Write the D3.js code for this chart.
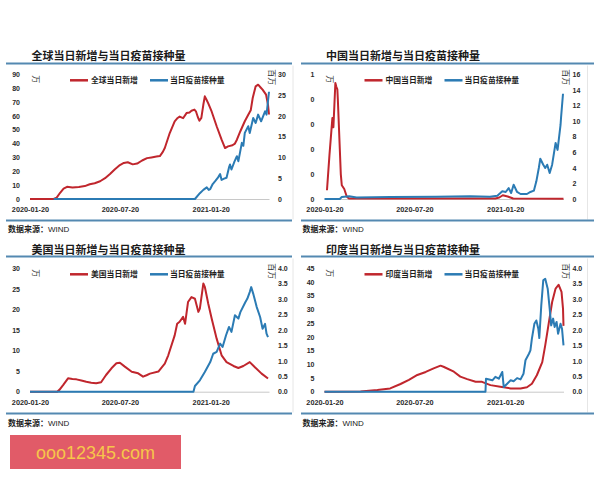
<!DOCTYPE html>
<html><head><meta charset="utf-8">
<script src="https://cdn.jsdelivr.net/npm/d3@7"></script>
<style>
body{margin:0;background:#fff;}
svg{display:block;font-family:"Noto Sans CJK SC","Noto Sans",sans-serif;}
</style></head><body>
<svg id="c" width="600" height="480"></svg>
<script>
// ---------- data ----------
const xTickDates = ["2020-01-20","2020-07-20","2021-01-20"];
const dateDomain = ["2020-01-20","2021-05-18"];

const globalLeftTicks = [0,10,20,30,40,50,60,70,80,90];
const globalRightTicks = [0,5,10,15,20,25,30];
const chinaLeftTicks = [0,0.2,0.4,0.6,0.8,1];
const chinaLeftLabels = ["0","0","0","0","0","1"];
const chinaRightTicks = [0,2,4,6,8,10,12,14,16];
const usLeftTicks = [0,5,10,15,20,25,30];
const indiaLeftTicks = [0,5,10,15,20,25,30,35,40,45];
const vaccRightTicks = [0,0.5,1,1.5,2,2.5,3,3.5,4];
const vaccRightLabels = ["0.0","0.5","1.0","1.5","2.0","2.5","3.0","3.5","4.0"];

const titles = ["全球当日新增与当日疫苗接种量","中国当日新增与当日疫苗接种量","美国当日新增与当日疫苗接种量","印度当日新增与当日疫苗接种量"];
const caseNames = ["全球当日新增","中国当日新增","美国当日新增","印度当日新增"];
const vaccName = "当日疫苗接种量";
const sourceLabel = "数据来源：";
const sourceName = "WIND";

const globalCases = [["2020-01-20",0],["2020-03-08",0],["2020-03-14",1],["2020-03-21",4.5],["2020-03-28",7.5],["2020-04-04",8.8],["2020-04-15",8.3],["2020-04-28",8.7],["2020-05-10",9.3],["2020-05-20",10.6],["2020-05-30",11.4],["2020-06-10",12.8],["2020-06-20",15],["2020-06-30",18],["2020-07-10",21.5],["2020-07-20",24.5],["2020-07-28",26],["2020-08-05",26.5],["2020-08-15",25],["2020-08-24",25.6],["2020-09-03",27.8],["2020-09-13",29.5],["2020-09-22",30],["2020-10-02",30.6],["2020-10-09",31],["2020-10-15",34],["2020-10-19",36.8],["2020-10-29",47.6],["2020-11-08",56],["2020-11-14",58.5],["2020-11-18",59.5],["2020-11-25",58.3],["2020-12-02",62],["2020-12-08",62.5],["2020-12-12",63.7],["2020-12-18",64.5],["2020-12-21",63.3],["2020-12-25",59],["2020-12-28",56.5],["2021-01-01",58.5],["2021-01-05",68],["2021-01-08",74.1],["2021-01-11",72],["2021-01-15",69],["2021-01-22",63],["2021-02-01",52.5],["2021-02-11",42.8],["2021-02-18",36.8],["2021-02-24",38],["2021-03-05",38.8],["2021-03-10",40],["2021-03-14",42.8],["2021-03-21",48.9],["2021-03-30",56.1],["2021-04-06",60.8],["2021-04-11",64],["2021-04-15",72.9],["2021-04-21",81.3],["2021-04-26",82.5],["2021-05-01",80.5],["2021-05-05",78.9],["2021-05-12",75.3],["2021-05-16",68],["2021-05-18",61]];
const globalVacc = [["2020-03-08",0],["2020-12-19",0],["2020-12-29",1.4],["2021-01-05",2.2],["2021-01-12",2.8],["2021-01-16",2.2],["2021-01-19",2.4],["2021-01-24",3.6],["2021-01-29",4.3],["2021-02-04",5.2],["2021-02-08",6],["2021-02-11",4.6],["2021-02-16",4.9],["2021-02-21",5.1],["2021-02-26",7.6],["2021-02-28",8.3],["2021-03-03",7.1],["2021-03-09",9],["2021-03-14",10.3],["2021-03-17",9.1],["2021-03-24",13.5],["2021-03-27",12.8],["2021-03-30",15.9],["2021-04-06",17.5],["2021-04-09",15.9],["2021-04-16",19.5],["2021-04-21",18.3],["2021-04-26",20.3],["2021-05-02",18.7],["2021-05-10",21.1],["2021-05-13",20.3],["2021-05-18",25.8]];

const chinaCases = [["2020-01-25",0.07],["2020-01-30",0.35],["2020-02-03",0.55],["2020-02-05",0.65],["2020-02-07",0.575],["2020-02-09",0.75],["2020-02-11",0.93],["2020-02-13",0.9],["2020-02-15",0.88],["2020-02-16",0.8],["2020-02-18",0.6],["2020-02-20",0.4],["2020-02-22",0.2],["2020-02-24",0.11],["2020-02-29",0.08],["2020-03-05",0.02],["2020-03-09",0.005],["2020-12-31",0.004],["2021-01-08",0.012],["2021-01-15",0.03],["2021-01-25",0.02],["2021-02-05",0.004],["2021-05-18",0.003]];
const chinaVacc = [["2020-01-20",0],["2020-02-20",0],["2020-02-24",0.25],["2020-03-10",0.35],["2020-03-25",0.2],["2020-06-01",0.25],["2020-09-01",0.3],["2020-11-10",0.35],["2020-12-20",0.3],["2021-01-04",0.42],["2021-01-09",0.7],["2021-01-14",1.0],["2021-01-21",0.9],["2021-01-27",1.4],["2021-02-01",0.77],["2021-02-06",1.84],["2021-02-13",0.9],["2021-02-20",0.64],["2021-03-05",0.64],["2021-03-12",0.9],["2021-03-19",1.07],["2021-03-24",2.27],["2021-03-29",3.98],["2021-04-01",5.17],["2021-04-07",4.4],["2021-04-11",3.98],["2021-04-15",4.4],["2021-04-20",3.34],["2021-04-25",4.4],["2021-05-02",7.2],["2021-05-06",6.3],["2021-05-12",9.5],["2021-05-13",10.4],["2021-05-17",13.5]];

const usCases = [["2020-01-20",0],["2020-03-15",0],["2020-03-20",0.5],["2020-03-27",1.6],["2020-04-06",3.25],["2020-04-15",3.1],["2020-04-23",3.0],["2020-05-03",2.7],["2020-05-13",2.4],["2020-05-23",2.2],["2020-06-02",2.04],["2020-06-12",2.3],["2020-06-22",4.06],["2020-07-03",5.7],["2020-07-13",6.9],["2020-07-20",7.05],["2020-07-30",6.1],["2020-08-13",4.86],["2020-08-26",4.47],["2020-09-05",3.65],["2020-09-12",4.0],["2020-09-19",4.4],["2020-10-06",4.9],["2020-10-12",5.8],["2020-10-19",6.8],["2020-10-26",8.85],["2020-11-08",13.7],["2020-11-13",16.5],["2020-11-18",17],["2020-11-25",18.2],["2020-11-29",16.5],["2020-12-05",21.8],["2020-12-12",23],["2020-12-19",22.6],["2020-12-26",19.4],["2020-12-29",20.2],["2021-01-05",26.3],["2021-01-08",25.5],["2021-01-15",21.4],["2021-01-22",17.75],["2021-02-01",12.9],["2021-02-11",8.85],["2021-02-21",7.2],["2021-03-07",6.25],["2021-03-17",5.76],["2021-03-27",6.25],["2021-04-09",7.2],["2021-04-19",6.0],["2021-05-03",4.4],["2021-05-16",3.2]];
const usVacc = [["2020-01-20",0],["2020-12-16",0],["2020-12-19",0.185],["2020-12-29",0.37],["2021-01-08",0.64],["2021-01-19",0.96],["2021-01-25",1.23],["2021-02-01",1.29],["2021-02-08",1.56],["2021-02-13",1.45],["2021-02-20",1.83],["2021-02-26",2.1],["2021-03-03",1.94],["2021-03-10",2.48],["2021-03-17",2.37],["2021-03-21",2.58],["2021-03-31",2.9],["2021-04-04",3.01],["2021-04-09",3.23],["2021-04-12",3.39],["2021-04-16",3.18],["2021-04-23",2.75],["2021-04-30",2.42],["2021-05-05",2.04],["2021-05-10",2.2],["2021-05-13",1.88],["2021-05-16",1.77]];

const indiaCases = [["2020-01-20",0],["2020-04-02",0.1],["2020-05-06",0.6],["2020-06-01",1.2],["2020-06-22",2.8],["2020-07-09",4.3],["2020-07-26",6.1],["2020-08-12",7.2],["2020-08-28",8.5],["2020-09-11",9.5],["2020-09-17",9.1],["2020-10-08",7.3],["2020-10-21",5.5],["2020-11-04",4.6],["2020-11-21",3.65],["2020-12-04",3.6],["2020-12-21",2.4],["2021-01-10",1.8],["2021-01-31",1.2],["2021-02-20",1.2],["2021-03-05",1.6],["2021-03-15",2.9],["2021-03-25",6],["2021-04-05",10.8],["2021-04-11",16.9],["2021-04-18",24.8],["2021-04-25",32.7],["2021-05-02",37.6],["2021-05-08",39],["2021-05-14",36.4],["2021-05-17",30.3],["2021-05-18",24]];
const indiaVacc = [["2020-01-20",0],["2020-12-11",0],["2020-12-12",0.42],["2020-12-25",0.37],["2020-12-31",0.48],["2021-01-07",0.42],["2021-01-14",0.64],["2021-01-17",0.15],["2021-01-24",0.26],["2021-01-31",0.37],["2021-02-06",0.34],["2021-02-13",0.44],["2021-02-20",0.4],["2021-02-26",0.58],["2021-03-02",1.02],["2021-03-09",1.23],["2021-03-12",1.34],["2021-03-15",1.72],["2021-03-20",2.2],["2021-03-24",2.31],["2021-03-28",2.04],["2021-03-30",1.74],["2021-04-03",2.8],["2021-04-07",3.61],["2021-04-11",3.66],["2021-04-16",3.34],["2021-04-20",2.69],["2021-04-23",2.15],["2021-04-27",2.37],["2021-04-30",2.1],["2021-05-04",2.26],["2021-05-07",1.88],["2021-05-12",2.2],["2021-05-15",2.04],["2021-05-18",1.5]];

// ---------- drawing ----------
const parse = d3.timeParse("%Y-%m-%d");
const fmt = d3.timeFormat("%Y-%m-%d");
const RED = "#c0262d", BLUE = "#2b7bb4", RULE = "#5489b1";
const svg = d3.select("#c");

const rows = [
  {titleY: 59.8, ruleTop: 63.5, yTop: 74.3, yBot: 199, ruleBot: 220.5, srcY: 232},
  {titleY: 254.2, ruleTop: 256.5, yTop: 268.3, yBot: 391.7, ruleBot: 413.5, srcY: 425.5}
];
const panels = [
  {row:0, ox:0, title:titles[0], cName:caseNames[0], cases:globalCases, vacc:globalVacc, lMax:90, lTicks:globalLeftTicks, lLabels:null, rMax:30, rTicks:globalRightTicks, rLabels:null, ruleX:[6,292]},
  {row:0, ox:294.5, title:titles[1], cName:caseNames[1], cases:chinaCases, vacc:chinaVacc, lMax:1, lTicks:chinaLeftTicks, lLabels:chinaLeftLabels, rMax:16, rTicks:chinaRightTicks, rLabels:null, ruleX:[301,594]},
  {row:1, ox:0, title:titles[2], cName:caseNames[2], cases:usCases, vacc:usVacc, lMax:30, lTicks:usLeftTicks, lLabels:null, rMax:4, rTicks:vaccRightTicks, rLabels:vaccRightLabels, ruleX:[6,292]},
  {row:1, ox:294.5, title:titles[3], cName:caseNames[3], cases:indiaCases, vacc:indiaVacc, lMax:45, lTicks:indiaLeftTicks, lLabels:null, rMax:4, rTicks:vaccRightTicks, rLabels:vaccRightLabels, ruleX:[301,594]}
];

function styleTicks(sel){
  sel.select(".domain").remove();
  sel.selectAll("text").attr("font-family","'Liberation Sans',Arial,sans-serif")
     .attr("font-size",7).attr("font-weight","bold").attr("fill","#2a2a2a");
}

panels.forEach(p => {
  const r = rows[p.row];
  const g = svg.append("g");
  const x0 = p.ox + 30, x1 = p.ox + 269;
  const x = d3.scaleTime().domain(dateDomain.map(parse)).range([x0, x1]);
  const yL = d3.scaleLinear().domain([0, p.lMax]).range([r.yBot, r.yTop]);
  const yR = d3.scaleLinear().domain([0, p.rMax]).range([r.yBot, r.yTop]);

  g.append("line").attr("x1", p.ox+293).attr("x2", p.ox+293).attr("y1", r.ruleTop+2).attr("y2", r.ruleBot-1)
    .attr("stroke","#e6e6e6").attr("stroke-width",1);

  g.append("text").attr("x", p.ox+31.5).attr("y", r.titleY).text(p.title)
    .attr("font-size",11).attr("font-weight","bold").attr("fill","#1a1a1a");
  g.append("line").attr("x1",p.ruleX[0]).attr("x2",p.ruleX[1]).attr("y1",r.ruleTop).attr("y2",r.ruleTop)
    .attr("stroke",RULE).attr("stroke-width",2);
  g.append("line").attr("x1",p.ruleX[0]).attr("x2",p.ruleX[1]).attr("y1",r.ruleBot).attr("y2",r.ruleBot)
    .attr("stroke",RULE).attr("stroke-width",2);

  const aL = d3.axisLeft(yL).tickValues(p.lTicks).tickSize(0).tickPadding(10);
  if (p.lLabels) aL.tickFormat((d,i)=>p.lLabels[i]);
  g.append("g").attr("transform",`translate(${x0},0)`).call(aL).call(styleTicks);
  const aR = d3.axisRight(yR).tickValues(p.rTicks).tickSize(0).tickPadding(9);
  if (p.rLabels) aR.tickFormat((d,i)=>p.rLabels[i]);
  g.append("g").attr("transform",`translate(${x1},0)`).call(aR).call(styleTicks);
  const aX = d3.axisBottom(x).tickValues(xTickDates.map(parse)).tickFormat(fmt).tickSize(0).tickPadding(8);
  const gx = g.append("g").attr("transform",`translate(0,${r.yBot})`).call(aX);
  gx.select(".domain").attr("stroke","#c8c8c8").attr("stroke-width",1);
  gx.selectAll("text").attr("font-family","'Liberation Sans',Arial,sans-serif")
     .attr("font-size",7.3).attr("font-weight","bold").attr("fill","#2a2a2a");

  g.append("text").attr("transform",`translate(${x0+2.5},${r.yTop+1}) rotate(90)`).text("万")
    .attr("font-size",8).attr("fill","#333");
  g.append("text").attr("transform",`translate(${x1-0.5},${r.yTop-5}) rotate(90)`).text("百万")
    .attr("font-size",8).attr("fill","#333");

  const ly = r.yTop + 6;
  g.append("line").attr("x1",p.ox+70).attr("x2",p.ox+88).attr("y1",ly).attr("y2",ly).attr("stroke",RED).attr("stroke-width",2.5);
  g.append("text").attr("x",p.ox+91).attr("y",ly+3).text(p.cName).attr("font-size",7.8).attr("font-weight",600).attr("fill","#1e1e1e");
  g.append("line").attr("x1",p.ox+150).attr("x2",p.ox+168).attr("y1",ly).attr("y2",ly).attr("stroke",BLUE).attr("stroke-width",2.5);
  g.append("text").attr("x",p.ox+170).attr("y",ly+3).text(vaccName).attr("font-size",7.8).attr("font-weight",600).attr("fill","#1e1e1e");

  const lineL = d3.line().x(d=>x(parse(d[0]))).y(d=>yL(d[1]));
  const lineR = d3.line().x(d=>x(parse(d[0]))).y(d=>yR(d[1]));
  g.append("path").attr("d",lineL(p.cases)).attr("fill","none").attr("stroke",RED).attr("stroke-width",2).attr("stroke-linejoin","round");
  g.append("path").attr("d",lineR(p.vacc)).attr("fill","none").attr("stroke",BLUE).attr("stroke-width",2).attr("stroke-linejoin","round");

  const src = g.append("text").attr("x",p.ox+8).attr("y",r.srcY).attr("font-size",8).attr("fill","#222");
  src.append("tspan").text(sourceLabel).attr("font-weight","bold");
  src.append("tspan").text(sourceName).attr("font-family","'Liberation Sans',Arial,sans-serif");
});

svg.append("rect").attr("x",10).attr("y",435).attr("width",171).attr("height",34).attr("fill","#e15b68");
svg.append("text").attr("x",95.5).attr("y",458.5).attr("text-anchor","middle").text("ooo12345.com")
  .attr("font-family","'Liberation Sans',Arial,sans-serif").attr("font-size",18).attr("fill","#f6c64a");
</script>
</body></html>
